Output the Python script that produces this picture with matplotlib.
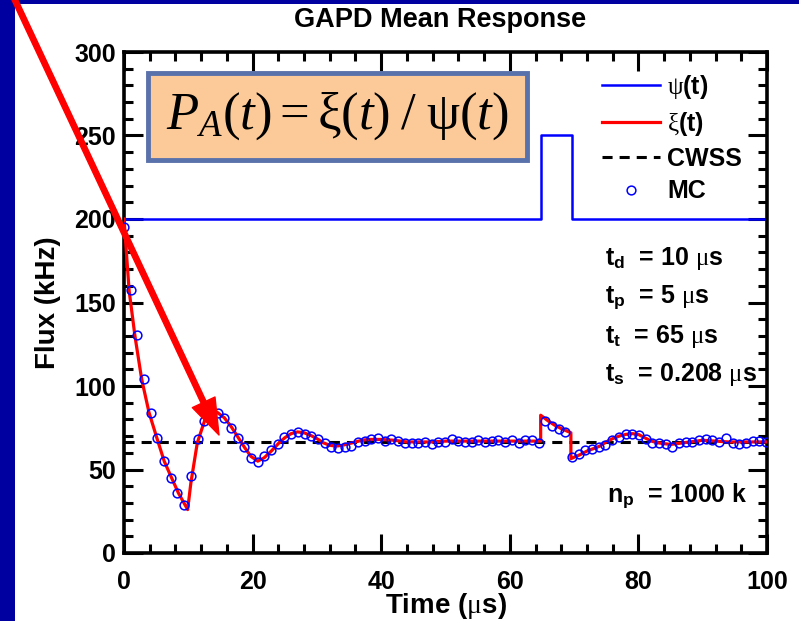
import matplotlib.pyplot as plt
import numpy as np
from matplotlib.patches import Rectangle, FancyArrowPatch
from matplotlib.ticker import MultipleLocator

plt.rcParams['font.family'] = 'Liberation Sans'
plt.rcParams['font.weight'] = 'bold'
plt.rcParams['mathtext.fontset'] = 'custom'
plt.rcParams['mathtext.rm'] = 'Liberation Serif:normal'
plt.rcParams['mathtext.it'] = 'Liberation Serif:italic:normal'
plt.rcParams['mathtext.bf'] = 'Liberation Sans:bold'

# psi(t): incident flux with the pulse
psi_t = [0, 64.8, 69.6, 100]
psi_v = [200, 250, 200, 200]

# xi(t): model response
xi_t = [0, 0.8, 1.7, 2.75, 3.9, 5.1, 6.25, 7.4, 8.45, 9.9, 10.4, 11.4, 12.6, 13.5,
        14.4, 15.6, 16.7, 17.7, 18.7, 19.7, 20.8, 21.8, 22.9, 24, 25, 26, 27, 28,
        29, 30, 31, 32, 33, 34, 35, 36, 37, 38, 40, 42, 44, 46, 48, 50, 52, 54, 56,
        58, 60, 62, 64.8, 64.8, 66, 67, 68, 69.5, 69.5, 71, 72, 73, 74, 75, 76, 77,
        78, 79, 80, 81, 82, 83, 84, 85, 86, 87, 88, 90, 92, 94, 96, 98, 100]
xi_v = [200, 157, 130, 104, 84, 69, 55, 45, 36, 26, 42, 66, 80, 83.5,
        84.5, 81, 75.5, 69.5, 63.5, 58, 55, 57, 61, 65.5, 69, 71.5, 72.5, 72,
        70.5, 68.5, 66, 64.5, 64, 64.5, 65.5, 66.5, 67.5, 68, 68, 67.5, 66.5, 66.5, 66.5, 67, 67, 67, 67,
        67, 67, 67, 67, 82.5, 79, 76.5, 74.5, 72, 56.5, 59, 61, 62.5, 64, 66.5, 68.5, 70,
        71, 71.5, 71, 69, 67, 66, 65.5, 65, 65.5, 66, 66.5, 67.5, 67, 66.5, 66.5, 66.5, 66.5]

# continuous-wave steady state
cwss = 66.5

# Monte Carlo points, sampled every 5 t_s = 1.04 us
mc_dt = 1.04
mc_flux = [195, 157.5, 130.5, 104, 84, 69, 55, 45, 36, 29,
           46, 68, 79, 83, 84, 81, 75, 69, 63.7, 57,
           54.7, 58, 61.7, 65, 69.3, 71.3, 72.7, 71.3, 70.3, 68.1,
           65.7, 63.7, 63.1, 63.7, 64.3, 66.3, 66.9, 68.1, 69.1, 67.1,
           68.3, 67.3, 66.1, 65.7, 65.7, 66.3, 65.1, 66.3, 66.7, 68.1,
           66.9, 66.3, 66.3, 67.5, 66.5, 67.1, 67.7, 66.3, 67.5, 66.1,
           67.5, 67.5, 66.1, 79.2, 76.2, 74.2, 72.2, 57.3, 59.3, 61.7,
           62.3, 63.7, 64.7, 67.5, 69.7, 71.5, 71.3, 70.7, 68.1, 65.7,
           65.7, 65.1, 63.7, 66.1, 66.3, 66.7, 67.7, 68.5, 67.7, 66.7,
           68.7, 66.1, 65.1, 66.1, 66.9, 66.9, 66.3]
mc_t = np.arange(len(mc_flux)) * mc_dt

params = [r't$_\mathbf{d}$  = 10 $\mathrm{\mu}$s',
          r't$_\mathbf{p}$  = 5 $\mathrm{\mu}$s',
          r't$_\mathbf{t}$  = 65 $\mathrm{\mu}$s',
          r't$_\mathbf{s}$  = 0.208 $\mathrm{\mu}$s']

fig = plt.figure(figsize=(7.99, 6.21), dpi=100)
ax = fig.add_axes([124 / 799, 68 / 621, 643 / 799, 501 / 621])

ax.plot(psi_t, psi_v, color='#0000ff', lw=1.8, drawstyle='steps-post',
        label=r'$\mathrm{\psi}$(t)')
ax.plot(xi_t, xi_v, color='#ff0000', lw=2.3, label=r'$\mathrm{\xi}$(t)', zorder=3)
ax.plot([0, 100], [cwss, cwss], color='black', lw=2.2, dashes=(3.3, 2.3),
        label='CWSS', zorder=2)
ax.plot(mc_t, mc_flux, 'o', ms=6.3, mfc='none', mec='#0000ff', mew=1.1,
        label='MC', zorder=4)

ax.set_xlim(0, 100)
ax.set_ylim(0, 300)
ax.xaxis.set_major_locator(MultipleLocator(20))
ax.xaxis.set_minor_locator(MultipleLocator(4))
ax.yaxis.set_major_locator(MultipleLocator(50))
ax.yaxis.set_minor_locator(MultipleLocator(10))
ax.tick_params(which='both', direction='in', top=True, right=True, width=2.2,
               labelsize=18, color='black')
ax.tick_params(which='major', length=13.5)
ax.tick_params(which='minor', length=6.5)
ax.tick_params(axis='x', pad=12)
ax.tick_params(axis='y', pad=6)
for s in ax.spines.values():
    s.set_linewidth(2.6)

ax.set_xlabel(r'Time ($\mathrm{\mu}$s)', fontsize=20, fontweight='bold', labelpad=-2)
ax.set_ylabel('Flux (kHz)', fontsize=20, fontweight='bold', labelpad=9)
fig.text(440 / 799, 1 - 20 / 621, 'GAPD Mean Response', ha='center', va='center',
         fontsize=19.5, fontweight='bold')

leg = ax.legend(loc='upper left', bbox_to_anchor=(0.744, 0.958), frameon=False,
                fontsize=18, handlelength=2.3, handletextpad=0.3, labelspacing=0.35,
                borderaxespad=0, borderpad=0)

# formula box
ax.add_patch(Rectangle((0.037, 0.784), 0.59, 0.174, transform=ax.transAxes,
                       facecolor='#fcca98', edgecolor='#5a72ab', lw=3.5, zorder=5))
ax.text(0.332, 0.871, r'$P_A(t) = \mathrm{\xi}(t)\;/\;\mathrm{\psi}(t)$',
        transform=ax.transAxes, ha='center', va='center', fontsize=38, zorder=6)

for i, p in enumerate(params):
    ax.text(0.748, 0.587 - i * 0.077, p, transform=ax.transAxes, ha='left',
            va='center', fontsize=18, fontweight='bold')
ax.text(0.751, 0.112, r'n$_\mathbf{p}$  = 1000 k', transform=ax.transAxes,
        ha='left', va='center', fontsize=18, fontweight='bold')

# slide background bands
fig.patches.append(Rectangle((0, 0), 15 / 799, 1, transform=fig.transFigure,
                             facecolor='#0000a0', edgecolor='none', zorder=0))
fig.patches.append(Rectangle((0, 1 - 4 / 621), 1, 4 / 621, transform=fig.transFigure,
                             facecolor='#0000a0', edgecolor='none', zorder=0))

arrow = FancyArrowPatch((12 / 799, 1.01), (219 / 799, 186 / 621),
                        transform=fig.transFigure,
                        arrowstyle='simple,head_width=18,head_length=26,tail_width=3.8',
                        color='#ff0000', shrinkA=0, shrinkB=0, mutation_scale=1,
                        zorder=10)
fig.patches.append(arrow)

fig.savefig('out.png', dpi=100)
